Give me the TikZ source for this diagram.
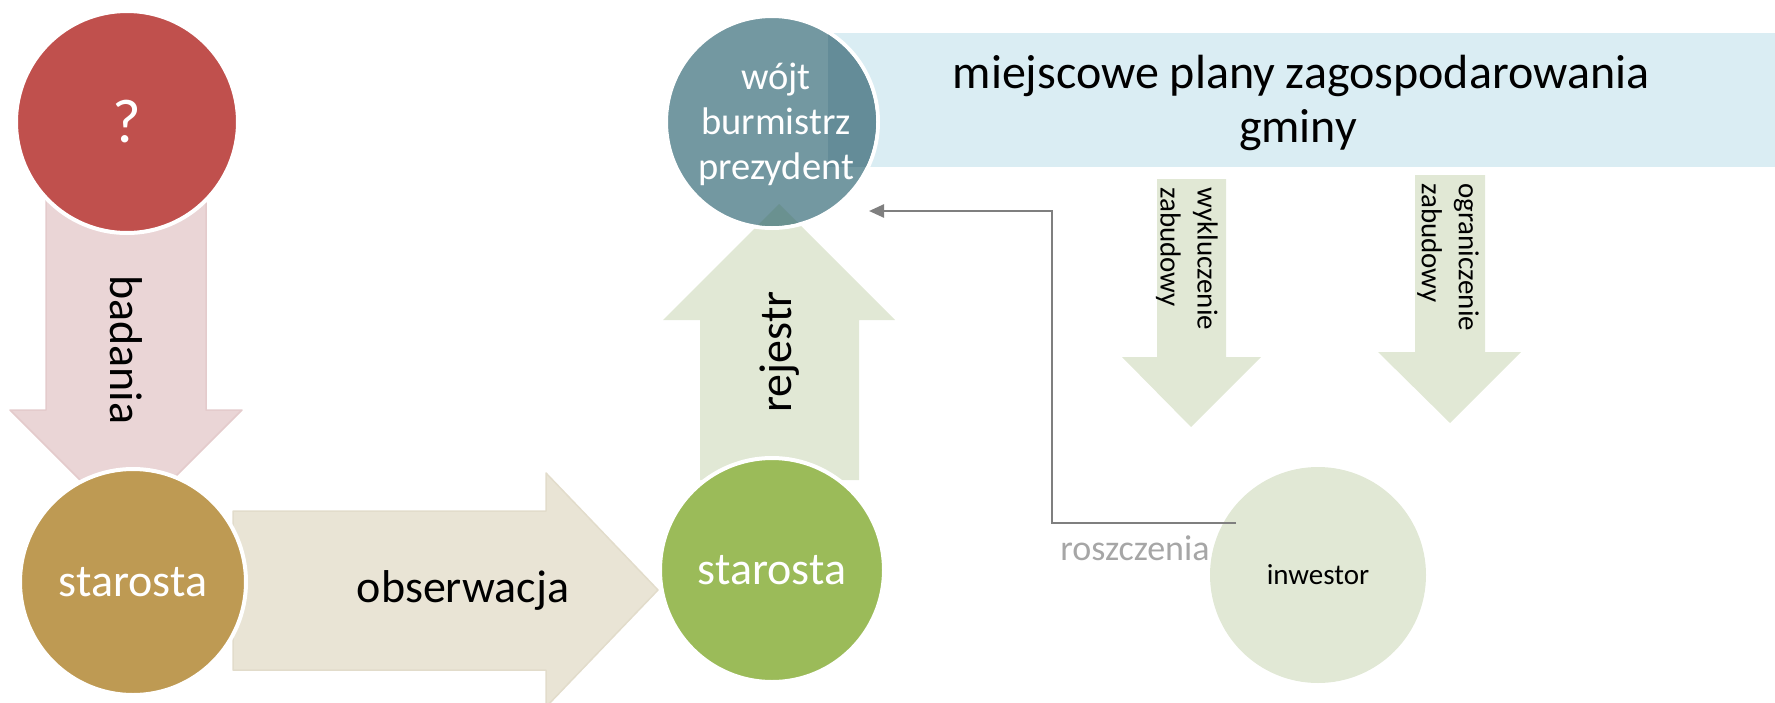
\documentclass[tikz,border=0pt]{standalone}
\usepackage{fontspec}
\setmainfont{Carlito}
\usetikzlibrary{arrows.meta}
\definecolor{qred}{HTML}{C0504D}
\definecolor{pinkarr}{HTML}{EAD5D6}
\definecolor{pinkedge}{HTML}{E4CBCC}
\definecolor{goldc}{HTML}{BE9A53}
\definecolor{beigearr}{HTML}{E9E4D5}
\definecolor{beigeedge}{HTML}{E2DCCB}
\definecolor{olivec}{HTML}{9BBB59}
\definecolor{lgreen}{HTML}{E1E8D5}
\definecolor{tealc}{HTML}{7398A1}
\definecolor{tealdark}{HTML}{648C98}
\definecolor{tealtip}{HTML}{6A9190}
\definecolor{bannerc}{HTML}{DAEDF3}
\definecolor{grayline}{HTML}{7F7F7F}
\definecolor{graytext}{HTML}{A6A6A6}
\begin{document}
\begin{tikzpicture}[x=1pt,y=-1pt,
  circ/.style={circle, draw=white, line width=4pt, inner sep=0pt, text=white},
  bigtxt/.style={font=\fontsize{46}{55}\selectfont, inner sep=0pt},
  bannertxt/.style={font=\fontsize{48}{57}\selectfont, inner sep=0pt},
  smalltxt/.style={font=\fontsize{29}{37}\selectfont, inner sep=0pt, align=left},
  conn/.style={draw=grayline, line width=2.5pt, -{Triangle[length=15pt,width=13pt]}},
]
\useasboundingbox (0,0) rectangle (1775,702);
% block arrows
\path[fill=pinkarr, draw=pinkedge, line width=1.5pt, line join=round]
  (46,180) -- (206,180) -- (206,410) -- (242,410) -- (126,526) -- (10,410) -- (46,410) -- cycle;
\path[fill=beigearr, draw=beigeedge, line width=1.5pt, line join=round]
  (233,511) -- (546,511) -- (546,473) -- (658,590) -- (546,707) -- (546,670) -- (233,670) -- cycle;
\path[fill=lgreen]
  (700,480) -- (700,320) -- (663,320) -- (779,204) -- (895,320) -- (859,320) -- (859,480) -- cycle;
\path[fill=lgreen]
  (1157,179) -- (1226,179) -- (1226,357) -- (1261,357) -- (1191,427) -- (1122,357) -- (1157,357) -- cycle;
\path[fill=lgreen]
  (1415,175) -- (1485,175) -- (1485,352) -- (1521,352) -- (1450,423) -- (1378,352) -- (1415,352) -- cycle;
% banner
\node[fill=bannerc, anchor=north west, minimum width=947pt, minimum height=134pt, inner sep=0pt, outer sep=0pt] (plany) at (828,33) {};
\node[bannertxt, anchor=base] (planyA) at (1301,88) {miejscowe plany zagospodarowania};
\node[bannertxt, anchor=base] (planyB) at (1298,142) {gminy};
% circles
\node[circ, fill=qred, minimum size=222pt, font=\fontsize{62}{74}\selectfont] (q) at (127,122) {?};
\node[circ, fill=goldc, minimum size=226pt, font=\fontsize{46}{55}\selectfont] (s1) at (133,582) {starosta};
\node[circ, fill=olivec, minimum size=224pt, font=\fontsize{46}{55}\selectfont] (s2) at (772,570) {starosta};
\node[circ, fill=tealc, minimum size=212pt] (wojt) at (772,122) {};
\begin{scope}
  \clip (772,122) circle (104pt);
  \fill[tealdark] (828,33) rectangle (1775,167);
  \fill[tealtip] (663,320) -- (779,204) -- (895,320) -- cycle;
\end{scope}
\node[text=white, font=\fontsize{38.5}{45}\selectfont, align=center, inner sep=0pt] (wojttxt) at (776,124) {wójt\\burmistrz\\prezydent};
\node[circle, fill=lgreen, minimum size=216pt, inner sep=0pt, font=\fontsize{29}{35}\selectfont] (inw) at (1318,575) {inwestor};
% arrow labels
\node[bigtxt, rotate=-90, anchor=base] (badania) at (110,350) {badania};
\node[bigtxt, anchor=base] (obs) at (463,602) {obserwacja};
\node[bigtxt, rotate=90, anchor=base] (rej) at (791,352) {rejestr};
\node[smalltxt, rotate=-90, anchor=north west] (wyk) at (1218,187) {wykluczenie\\zabudowy};
\node[smalltxt, rotate=-90, anchor=north west] (ogr) at (1479,183) {ograniczenie\\zabudowy};
% connector
\coordinate (rs) at (1236,523);
\coordinate (re) at (869,211);
\draw[conn] (rs) -- ++(-184,0) |- (re);
\node[text=graytext, font=\fontsize{36}{43}\selectfont, inner sep=0pt, anchor=base] (rosz) at (1135,560) {roszczenia};
\end{tikzpicture}
\end{document}
